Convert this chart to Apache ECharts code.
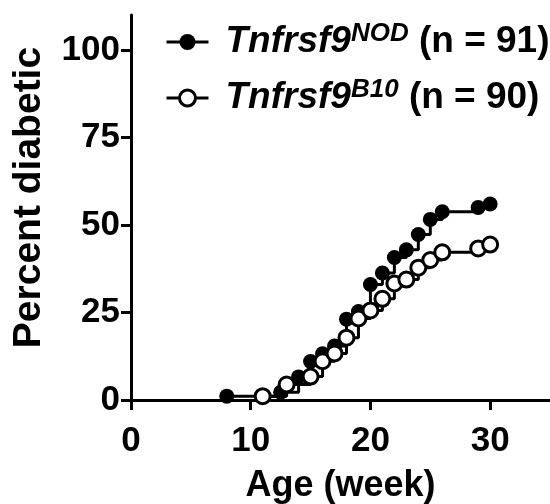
<!DOCTYPE html>
<html><head><meta charset="utf-8">
<script src="https://cdn.jsdelivr.net/npm/echarts@6/dist/echarts.min.js"></script>
<style>html,body{margin:0;padding:0;background:#fff}#c{width:550px;height:504px}</style>
</head><body><div id="c"></div>
<script>
const weeksNOD = [8, 12.5, 14, 15, 16, 17, 18, 19, 20, 21, 22, 23, 24, 25, 26, 29, 30];
const pctNOD   = [1.1, 2.2, 6.6, 11.0, 13.2, 15.4, 23.1, 25.3, 33.0, 36.3, 40.7, 42.9, 47.3, 51.6, 53.8, 55.0, 56.0];
const weeksB10 = [11, 13, 15, 16, 17, 18, 19, 20, 21, 22, 23, 24, 25, 26, 29, 30];
const pctB10   = [1.1, 4.4, 6.7, 11.1, 13.3, 17.8, 23.3, 25.6, 28.9, 33.3, 34.4, 37.8, 40.0, 42.2, 43.3, 44.4];
const xTicks = [0, 10, 20, 30];
const yTicks = [0, 25, 50, 75, 100];
const seriesNames = ['NOD', 'B10'];
const seriesN = [91, 90];

const FONT = '"Liberation Sans", Arial, sans-serif';
const chart = echarts.init(document.getElementById('c'), null, {renderer: 'canvas'});
const rich = {
  it: {fontFamily: FONT, fontWeight: 'bold', fontStyle: 'italic', fontSize: 37, color: '#000', lineHeight: 42},
  sup: {fontFamily: FONT, fontWeight: 'bold', fontStyle: 'italic', fontSize: 26, color: '#000', verticalAlign: 'top', lineHeight: 42, padding: [0,0,12,0]},
  n: {fontFamily: FONT, fontWeight: 'bold', fontSize: 37, color: '#000', lineHeight: 42}
};
function legendFmt(name) {
  const i = seriesNames.indexOf(name);
  return '{it|Tnfrsf9}{sup|' + name + '}{n| (n = ' + seriesN[i] + ')}';
}
const pair = (xs, ys) => xs.map((x, i) => [x, ys[i]]);
const mkLegend = (name, top, bw) => ({
  data: [name], left: 160, top: top, orient: 'vertical',
  itemWidth: 42, itemHeight: 20, itemGap: 0,
  formatter: legendFmt,
  lineStyle: {width: 3, color: '#000'},
  itemStyle: {borderWidth: bw, borderColor: '#000'},
  textStyle: {rich: rich, padding: [0,0,0,12]},
  selectedMode: false
});
chart.setOption({
  animation: false,
  textStyle: {fontFamily: FONT},
  legend: [mkLegend('NOD', 16, 0), mkLegend('B10', 72, 3)],
  grid: {left: 131, right: 0, top: 15, bottom: 104, containLabel: false, outerBoundsMode: 'none'},
  xAxis: {
    type: 'value', min: 0, max: 35, interval: 10,
    axisLine: {lineStyle: {color: '#000', width: 3}},
    axisTick: {show: true, length: 10, inside: false, lineStyle: {color: '#000', width: 3},
      customValues: xTicks},
    axisLabel: {color: '#000', fontFamily: FONT, fontWeight: 'bold', fontSize: 35, margin: 24,
      customValues: xTicks},
    splitLine: {show: false},
    name: 'Age (week)', nameLocation: 'middle', nameGap: 68,
    nameTextStyle: {color: '#000', fontFamily: FONT, fontWeight: 'bold', fontSize: 36}
  },
  yAxis: {
    type: 'value', min: 0, max: 110, interval: 25,
    axisLine: {show: true, lineStyle: {color: '#000', width: 3}},
    axisTick: {show: true, length: 10, lineStyle: {color: '#000', width: 3}, customValues: yTicks},
    axisLabel: {color: '#000', fontFamily: FONT, fontWeight: 'bold', fontSize: 35, margin: 11, customValues: yTicks},
    splitLine: {show: false},
    name: 'Percent diabetic', nameLocation: 'middle', nameGap: 82,
    nameTextStyle: {color: '#000', fontFamily: FONT, fontWeight: 'bold', fontSize: 39, padding: [0,0,0,20]}
  },
  series: [
    {name: 'NOD', type: 'line', step: 'end', data: pair(weeksNOD, pctNOD),
     symbol: 'circle', symbolSize: 15, showAllSymbol: true,
     lineStyle: {color: '#000', width: 3}, itemStyle: {color: '#000', borderColor: '#000', borderWidth: 0}, z: 2},
    {name: 'B10', type: 'line', step: 'end', data: pair(weeksB10, pctB10),
     symbol: 'circle', symbolSize: 15, showAllSymbol: true,
     lineStyle: {color: '#000', width: 3}, itemStyle: {color: '#fff', borderColor: '#000', borderWidth: 3}, z: 3}
  ]
});
</script></body></html>
